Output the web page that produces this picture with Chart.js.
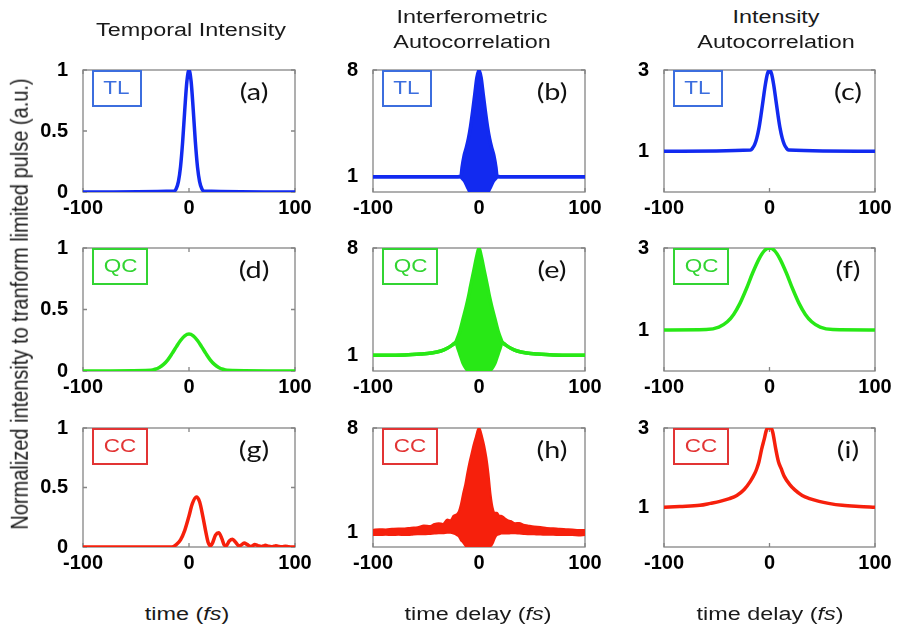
<!DOCTYPE html>
<html>
<head>
<meta charset="utf-8">
<script src="https://cdn.jsdelivr.net/npm/chart.js@4.4.1/dist/chart.umd.min.js"></script>
<style>
body { margin: 0; background: #fff; width: 899px; height: 632px; position: relative; overflow: hidden;
       font-family: "Liberation Sans", Arial, sans-serif; }
canvas { position: absolute; }
.txt { position: absolute; white-space: nowrap; color: #1a1a1a; font-size: 18px;
       transform: translate(-50%, -50%) scaleX(1.3); }
.ytitle { position: absolute; white-space: nowrap; color: #1a1a1a; font-size: 20px;
          transform: translate(-50%, -50%) rotate(-90deg) scaleY(1.15); }
.tag { position: absolute; height: 33px; border: 2px solid; display: flex; align-items: center; justify-content: center;
       font-size: 18px; }
.tag span { display: inline-block; transform: scaleX(1.25); }
.letter { position: absolute; font-family: Lato, "Open Sans", sans-serif; font-size: 24px; color: #111;
          transform: translate(-50%, -50%) scaleX(1.2); white-space: nowrap; }
</style>
</head>
<body>
<script>
// ---- data (x in fs) ----
// (a) TL temporal intensity
const aTime = [-100, -14, -12, -10, -8, -6, -4, -2, 0, 2, 4, 6, 8, 10, 12, 14, 100]
const aInt = [0, 0.008, 0.029, 0.085, 0.206, 0.41, 0.674, 0.906, 1, 0.906, 0.674, 0.41, 0.206, 0.085, 0.029, 0.008, 0]
// (b) TL interferometric autocorrelation, fringe envelopes
const bDelay = [-100, -20, -17, -16, -14, -12, -10, -8, -6, -4, -2, 0, 2, 4, 6, 8, 10, 12, 14, 16, 17, 20, 100]
const bUpper = [1, 1, 1.05, 1.6, 2.4, 2.9, 3.5, 4.3, 5.3, 6.4, 7.5, 8, 7.5, 6.4, 5.3, 4.3, 3.5, 2.9, 2.4, 1.6, 1.05, 1, 1]
const bLower = [1, 1, 1, 0.9, 0.75, 0.5, 0.2, 0, 0, 0, 0, 0, 0, 0, 0, 0, 0.2, 0.5, 0.75, 0.9, 1, 1, 1]
// (c) TL intensity autocorrelation
const cDelay = [-100, -18, -16, -14, -12, -10, -8, -6, -4, -2, 0, 2, 4, 6, 8, 10, 12, 14, 16, 18, 100]
const cAC = [1, 1.03, 1.08, 1.17, 1.33, 1.57, 1.9, 2.27, 2.63, 2.9, 3, 2.9, 2.63, 2.27, 1.9, 1.57, 1.33, 1.17, 1.08, 1.03, 1]
// (d) QC temporal intensity
const dTime = [-100, -36, -32, -28, -24, -20, -16, -12, -8, -4, 0, 4, 8, 12, 16, 20, 24, 28, 32, 36, 100]
const dInt = [0, 0.006, 0.014, 0.029, 0.054, 0.091, 0.141, 0.196, 0.248, 0.286, 0.3, 0.286, 0.248, 0.196, 0.141, 0.091, 0.054, 0.029, 0.014, 0.006, 0]
// (e) QC interferometric autocorrelation
const eDelay = [-100, -70, -55, -45, -36, -30, -25, -22, -20, -18, -15, -12, -10, -8, -5, -2, 0, 2, 5, 8, 10, 12, 15, 18, 20, 22, 25, 30, 36, 45, 55, 70, 100]
const eUpper = [1.02, 1.04, 1.1, 1.17, 1.3, 1.48, 1.7, 1.86, 2.2, 2.6, 3.4, 4.2, 4.8, 5.5, 6.5, 7.5, 8, 7.5, 6.5, 5.5, 4.8, 4.2, 3.4, 2.6, 2.2, 1.86, 1.7, 1.48, 1.3, 1.17, 1.1, 1.04, 1.02]
const eLower = [1.02, 1.04, 1.1, 1.17, 1.3, 1.48, 1.7, 1.86, 1.5, 1.1, 0.5, 0.15, 0, 0, 0, 0, 0, 0, 0, 0, 0, 0.15, 0.5, 1.1, 1.5, 1.86, 1.7, 1.48, 1.3, 1.17, 1.1, 1.04, 1.02]
// (f) QC intensity autocorrelation
const fDelay = [-100, -60, -48, -40, -34, -28, -22, -16, -10, -5, 0, 5, 10, 16, 22, 28, 34, 40, 48, 60, 100]
const fAC = [1, 1.01, 1.07, 1.2, 1.38, 1.65, 2.0, 2.39, 2.73, 2.93, 3, 2.93, 2.73, 2.39, 2.0, 1.65, 1.38, 1.2, 1.07, 1.01, 1]
// (g) CC temporal intensity
const gTime = [-100, -16, -12, -8, -4, 0, 3, 7, 10, 13, 16, 18, 20, 22, 25, 28, 31, 33, 35, 38, 41, 44, 47, 49, 52, 55, 58, 60, 62, 65, 68, 70, 72, 75, 78, 80, 82, 85, 88, 91, 94, 100]
const gInt = [0, 0, 0.02, 0.06, 0.14, 0.26, 0.36, 0.42, 0.38, 0.26, 0.12, 0.04, 0.01, 0.03, 0.1, 0.12, 0.07, 0.02, 0.01, 0.05, 0.066, 0.04, 0.01, 0.015, 0.034, 0.02, 0.005, 0.01, 0.02, 0.012, 0.004, 0.008, 0.014, 0.006, 0.003, 0.006, 0.01, 0.004, 0.002, 0.007, 0.003, 0]
// (h) CC interferometric autocorrelation
const hDelay = [-100, -94, -88, -82, -76, -70, -64, -58, -52, -46, -42, -38, -34, -30, -27, -24, -21, -19, -17, -15, -13, -11, -9, -7, -5, -3, -1, 0, 1, 3, 5, 7, 9, 11, 13, 15, 17, 19, 21, 24, 27, 30, 34, 38, 42, 46, 52, 58, 64, 70, 76, 82, 88, 94, 100]
const hUpper = [1.15, 1.2, 1.18, 1.22, 1.25, 1.24, 1.3, 1.32, 1.45, 1.42, 1.55, 1.6, 1.55, 1.85, 1.8, 2.1, 2.2, 2.4, 2.9, 3.6, 4.2, 5.0, 5.7, 6.3, 6.9, 7.4, 7.9, 8, 7.9, 7.4, 6.8, 6.0, 4.9, 3.5, 2.6, 2.3, 2.3, 2.1, 2.1, 1.95, 1.8, 1.75, 1.6, 1.62, 1.5, 1.45, 1.38, 1.35, 1.28, 1.26, 1.22, 1.2, 1.18, 1.15, 1.15]
const hLower = [0.8, 0.8, 0.82, 0.8, 0.82, 0.8, 0.82, 0.85, 0.85, 0.88, 0.9, 0.92, 0.92, 0.95, 0.95, 0.9, 0.8, 0.7, 0.45, 0.3, 0.1, 0, 0, 0, 0, 0, 0, 0, 0, 0, 0, 0, 0, 0.05, 0.25, 0.6, 0.8, 0.85, 0.9, 0.9, 0.9, 0.92, 0.92, 0.9, 0.88, 0.86, 0.85, 0.84, 0.82, 0.82, 0.8, 0.8, 0.8, 0.78, 0.8]
// (i) CC intensity autocorrelation
const iDelay = [-100, -85, -66, -56, -47, -38, -31, -24, -18, -14, -12, -10, -7.5, -5, -3, -1.5, 0, 1.5, 3, 6, 8.5, 11, 14, 19, 24, 31, 38, 47, 56, 69, 85, 100]
const iAC = [1.0, 1.02, 1.05, 1.1, 1.15, 1.22, 1.3, 1.45, 1.66, 1.85, 1.98, 2.15, 2.46, 2.72, 2.94, 3.0, 3.0, 3.0, 2.9, 2.46, 2.15, 1.98, 1.78, 1.58, 1.44, 1.3, 1.22, 1.15, 1.1, 1.05, 1.02, 1.0]

const xTicks = [-100, 0, 100]
const intTicks = [0, 0.5, 1]
const iacTicks = [1, 8]
const acTicks = [1, 3]
const colTitles = [['Temporal Intensity'], ['Interferometric', 'Autocorrelation'], ['Intensity', 'Autocorrelation']]
const xTitles = ['time (<i>fs</i>)', 'time delay (<i>fs</i>)', 'time delay (<i>fs</i>)']
const rowTags = ['TL', 'QC', 'CC']
const panelLetters = ['(a)', '(b)', '(c)', '(d)', '(e)', '(f)', '(g)', '(h)', '(i)']

// ---- layout / style ----
const colLeft = [83, 373, 664], colWidth = [212, 212, 211]
const rowTop = [63, 241, 421], rowHeight = [129, 130, 126]
const lineColors = ['rgb(18,42,240)', 'rgb(40,232,22)', 'rgb(246,32,12)']
const tagColors = ['rgb(60,110,222)', 'rgb(50,212,50)', 'rgb(226,52,52)']
const padL = 60, padT = 12, padR = 26, padB = 34

const panels = [
    {x: aTime, lines: [aInt], max: 1, ticks: intTicks},
    {x: bDelay, lines: [bUpper, bLower], max: 8, ticks: iacTicks},
    {x: cDelay, lines: [cAC], max: 3, ticks: acTicks},
    {x: dTime, lines: [dInt], max: 1, ticks: intTicks},
    {x: eDelay, lines: [eUpper, eLower], max: 8, ticks: iacTicks},
    {x: fDelay, lines: [fAC], max: 3, ticks: acTicks},
    {x: gTime, lines: [gInt], max: 1, ticks: intTicks},
    {x: hDelay, lines: [hUpper, hLower], max: 8, ticks: iacTicks, thin: true},
    {x: iDelay, lines: [iAC], max: 3, ticks: acTicks},
]

// box round the plot area plus small inward ticks, matlab style
const frame = {
    id: 'frame',
    beforeDatasetsDraw(chart) {
        let {ctx, chartArea: a, scales} = chart
        ctx.save()
        ctx.strokeStyle = '#858585'
        ctx.lineWidth = 1.3
        ctx.strokeRect(a.left, a.top, a.width, a.height)
        ctx.beginPath()
        for (let v of xTicks) {
            let px = scales.x.getPixelForValue(v)
            ctx.moveTo(px, a.bottom); ctx.lineTo(px, a.bottom - 4)
            ctx.moveTo(px, a.top); ctx.lineTo(px, a.top + 4)
        }
        for (let v of scales.y.ticks.map(t => t.value)) {
            let py = scales.y.getPixelForValue(v)
            ctx.moveTo(a.left, py); ctx.lineTo(a.left + 4, py)
            ctx.moveTo(a.right, py); ctx.lineTo(a.right - 4, py)
        }
        ctx.stroke()
        ctx.restore()
    }
}

const tickFont = {family: '"Liberation Sans", Arial, sans-serif', size: 20, weight: 'bold'}

function addDiv(cls, html, left, top, extra) {
    let d = document.createElement('div')
    d.className = cls
    d.innerHTML = html
    d.style.left = left + 'px'
    d.style.top = top + 'px'
    if (extra) Object.assign(d.style, extra)
    document.body.appendChild(d)
    return d
}

panels.forEach((p, k) => {
    let row = Math.floor(k / 3), col = k % 3
    let L = colLeft[col], T = rowTop[row], W = colWidth[col], H = rowHeight[row]
    let canvas = document.createElement('canvas')
    canvas.width = W + padL + padR
    canvas.height = H + padT + padB
    canvas.style.left = (L - padL) + 'px'
    canvas.style.top = (T - padT) + 'px'
    document.body.appendChild(canvas)

    let color = lineColors[row]
    let datasets = p.lines.map((ys, j) => ({
        data: p.x.map((x, i) => ({x: x, y: ys[i]})),
        borderColor: color,
        backgroundColor: color,
        borderWidth: p.thin ? 2 : 3.5,
        pointRadius: 0,
        cubicInterpolationMode: 'monotone',
        fill: p.lines.length > 1 && j === 0 ? '+1' : false,
    }))

    new Chart(canvas, {
        type: 'line',
        data: {datasets: datasets},
        options: {
            responsive: false,
            animation: false,
            layout: {padding: {top: padT, right: padR, left: 0, bottom: 0}},
            plugins: {legend: {display: false}, tooltip: {enabled: false}},
            scales: {
                x: {
                    type: 'linear', min: -100, max: 100,
                    afterBuildTicks: s => { s.ticks = xTicks.map(v => ({value: v})) },
                    afterFit: s => { s.height = padB },
                    grid: {display: false}, border: {display: false},
                    ticks: {color: '#000', font: tickFont, padding: -4, maxRotation: 0, autoSkip: false,
                            callback: v => String(v)}
                },
                y: {
                    min: 0, max: p.max,
                    afterBuildTicks: s => { s.ticks = p.ticks.map(v => ({value: v})) },
                    afterFit: s => { s.width = padL },
                    grid: {display: false}, border: {display: false},
                    ticks: {color: '#000', font: tickFont, padding: 7, autoSkip: false,
                            callback: v => String(v)}
                }
            }
        },
        plugins: [frame]
    })

    // TL / QC / CC tag and panel letter
    addDiv('tag', '<span>' + rowTags[row] + '</span>', L + 9, T + 7,
        {width: (row === 0 ? 46 : 52) + 'px', borderColor: tagColors[row], color: tagColors[row]})
    addDiv('letter', panelLetters[k], [254, 552, 848][col], T + 27)
})

// column titles
colTitles.forEach((lines, c) => {
    let cx = [191, 472, 776][c]
    if (lines.length === 1) addDiv('txt', lines[0], cx, 30)
    else {
        addDiv('txt', lines[0], cx, 17)
        addDiv('txt', lines[1], cx, 42)
    }
})
// x axis titles under bottom row
xTitles.forEach((t, c) => addDiv('txt', t, [187, 478, 770][c], 614))
// shared y axis title
addDiv('ytitle', 'Normalized intensity to tranform limited pulse (a.u.)', 20, 304)
</script>
</body>
</html>
